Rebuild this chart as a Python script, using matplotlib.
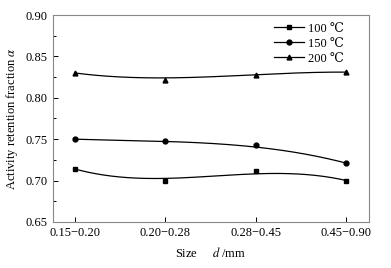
import numpy as np
import matplotlib
matplotlib.use('Agg')
import matplotlib.pyplot as plt
from matplotlib.ticker import MultipleLocator

plt.rcParams['font.family'] = ['Liberation Serif', 'DejaVu Serif']
plt.rcParams['mathtext.fontset'] = 'stix'
plt.rcParams['font.size'] = 9

# data
sizes = ['0.15\u22120.20', '0.20\u22120.28', '0.28\u22120.45', '0.45\u22120.90']
t100 = [0.714, 0.699, 0.711, 0.700]
t150 = [0.750, 0.748, 0.743, 0.721]
t200 = [0.830, 0.822, 0.828, 0.831]
labels = ['100 \u2103', '150 \u2103', '200 \u2103']
markers = ['s', 'o', '^']


def smooth(y, n=200):
    # half way between the cubic through the points and the Bezier curve
    y = np.array(y)
    x = np.arange(len(y))
    t = np.linspace(0, 1, n)
    b = np.array([(1 - t) ** 3, 3 * t * (1 - t) ** 2, 3 * t ** 2 * (1 - t), t ** 3])
    xs = 3 * t
    bez = b.T @ y
    interp = np.polyval(np.polyfit(x, y, 3), xs)
    return xs, 0.5 * (bez + interp)


fig = plt.figure(figsize=(3.91, 2.68), dpi=100)
ax = fig.add_axes([0.1355, 0.172, 0.808, 0.772])

xpos = np.arange(len(sizes))
for ys, lab, m in zip([t100, t150, t200], labels, markers):
    cx, cy = smooth(ys)
    ax.plot(cx, cy, color='black', lw=0.9)
    ax.plot(xpos, ys, linestyle='none', marker=m, color='black', ms=3.5)
    # legend proxy
    ax.plot([], [], color='black', lw=0.9, marker=m, ms=3.5, label=lab)

ax.set_xlim(-0.24, 3.25)
ax.set_ylim(0.65, 0.90)
ax.set_xticks(xpos)
ax.set_xticklabels(sizes)
ax.yaxis.set_major_locator(MultipleLocator(0.05))
ax.yaxis.set_minor_locator(MultipleLocator(0.025))
ax.yaxis.set_major_formatter(matplotlib.ticker.FormatStrFormatter('%.2f'))
ax.tick_params(direction='in', length=3.5, width=0.7, pad=4)
ax.tick_params(which='minor', direction='in', length=2, width=0.7)
for s in ax.spines.values():
    s.set_color('#888888')
    s.set_linewidth(0.8)

ax.set_ylabel('Activity retention fraction $\\alpha$')
ax.set_xlabel('Size     $d$ /mm', labelpad=5)

ax.legend(loc='upper right', bbox_to_anchor=(0.945, 1.0), frameon=False,
          handlelength=2.4, handletextpad=0.3, labelspacing=0.25,
          borderaxespad=0.2, fontsize=9)

fig.savefig('out.png', dpi=100)
